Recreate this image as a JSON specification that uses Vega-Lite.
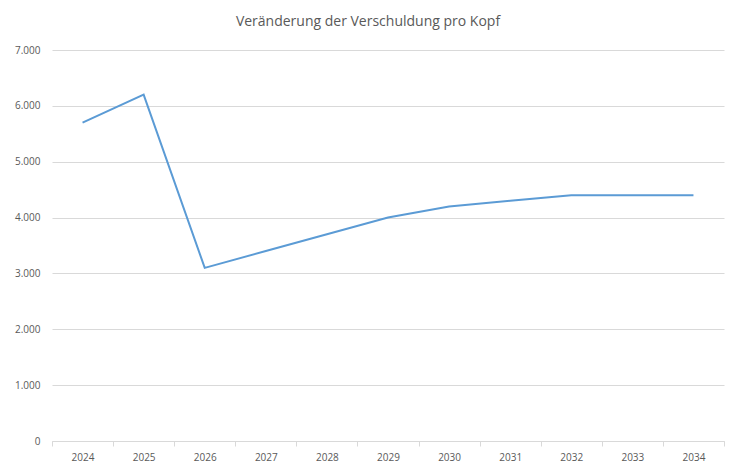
{
  "$schema": "https://vega.github.io/schema/vega-lite/v6.json",
  "width": 672,
  "height": 391,
  "autosize": "none",
  "padding": {"left": 52, "top": 50, "right": 5, "bottom": 27},
  "background": "white",
  "title": {
    "text": "Veränderung der Verschuldung pro Kopf",
    "font": "Open Sans",
    "fontSize": 14,
    "fontWeight": "normal",
    "color": "#595959",
    "offset": 16,
    "dx": -20
  },
  "config": {
    "locale": {"number": {"decimal": ",", "thousands": ".", "grouping": [3], "currency": ["", " €"]}},
    "view": {"stroke": null},
    "axis": {"labelFont": "Open Sans", "labelColor": "#595959", "labelFontSize": 10}
  },
  "data": {
    "values": [
      {"jahr": "2024", "wert": 5700},
      {"jahr": "2025", "wert": 6200},
      {"jahr": "2026", "wert": 3100},
      {"jahr": "2027", "wert": 3400},
      {"jahr": "2028", "wert": 3700},
      {"jahr": "2029", "wert": 4000},
      {"jahr": "2030", "wert": 4200},
      {"jahr": "2031", "wert": 4300},
      {"jahr": "2032", "wert": 4400},
      {"jahr": "2033", "wert": 4400},
      {"jahr": "2034", "wert": 4400}
    ]
  },
  "mark": {"type": "line", "color": "#5b9bd5", "strokeWidth": 2},
  "encoding": {
    "x": {
      "field": "jahr",
      "type": "ordinal",
      "scale": {"paddingInner": 0, "paddingOuter": 0},
      "axis": {
        "title": null,
        "labelAngle": 0,
        "tickBand": "extent",
        "tickColor": "#d9d9d9",
        "tickSize": 5,
        "domainColor": "#d9d9d9",
        "labelPadding": 6,
        "grid": false
      }
    },
    "y": {
      "field": "wert",
      "type": "quantitative",
      "scale": {"domain": [0, 7000]},
      "axis": {
        "title": null,
        "values": [0, 1000, 2000, 3000, 4000, 5000, 6000, 7000],
        "format": ",.0f",
        "domain": false,
        "ticks": false,
        "gridColor": "#d9d9d9",
        "labelPadding": 12
      }
    }
  }
}
